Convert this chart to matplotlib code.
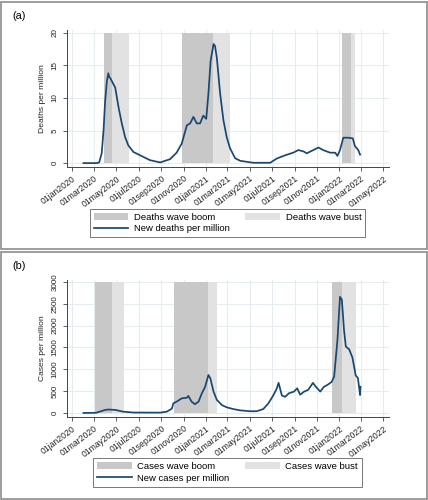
import matplotlib
matplotlib.use("Agg")
import matplotlib.pyplot as plt
from matplotlib.patches import Patch, Rectangle
from matplotlib.lines import Line2D
import numpy as np

plt.rcParams['font.family'] = ['Liberation Sans', 'DejaVu Sans']

# ---------------- data ----------------
death_dates = ["2020-02-01", "2020-03-10", "2020-03-15", "2020-03-22", "2020-03-27", "2020-03-31",
               "2020-04-05", "2020-04-09", "2020-04-12", "2020-04-15", "2020-04-28", "2020-05-07",
               "2020-05-16", "2020-05-25", "2020-06-03", "2020-06-17", "2020-07-05", "2020-08-01",
               "2020-08-29", "2020-09-25", "2020-10-13", "2020-10-27", "2020-11-10", "2020-11-19",
               "2020-11-28", "2020-12-07", "2020-12-16", "2020-12-25", "2021-01-02", "2021-01-08",
               "2021-01-14", "2021-01-22", "2021-01-26", "2021-01-31", "2021-02-09", "2021-02-18",
               "2021-02-27", "2021-03-08", "2021-03-22", "2021-04-05", "2021-05-11", "2021-06-26",
               "2021-07-14", "2021-07-23", "2021-08-06", "2021-08-28", "2021-09-11", "2021-09-25",
               "2021-10-04", "2021-10-22", "2021-11-05", "2021-11-18", "2021-12-07", "2021-12-21",
               "2021-12-27", "2022-01-03", "2022-01-12", "2022-01-26", "2022-02-07", "2022-02-13",
               "2022-02-22", "2022-02-27"]
death_values = [0, 0, 0.1, 1.5, 5.0, 9.2,
                12.5, 13.8, 13.2, 13.0, 11.6, 8.6,
                6.1, 4.0, 2.7, 1.7, 1.2, 0.45,
                0.1, 0.6, 1.6, 3.0, 5.8, 6.1,
                7.1, 6.1, 6.1, 7.3, 6.8, 10.7,
                15.7, 18.3, 18.0, 16.2, 10.7, 6.6,
                4.0, 2.3, 0.75, 0.35, 0.05, 0.05,
                0.7, 0.9, 1.2, 1.6, 2.0, 1.8,
                1.5, 2.0, 2.4, 2.0, 1.6, 1.6,
                1.1, 2.0, 3.9, 3.9, 3.8, 2.6,
                2.0, 1.3]

case_dates = ["2020-02-01", "2020-03-07", "2020-03-31", "2020-04-09", "2020-04-28", "2020-05-20",
              "2020-06-17", "2020-08-29", "2020-09-16", "2020-09-30", "2020-10-04", "2020-10-13",
              "2020-10-27", "2020-11-10", "2020-11-14", "2020-11-23", "2020-12-02", "2020-12-12",
              "2020-12-21", "2020-12-30", "2021-01-08", "2021-01-13", "2021-01-22", "2021-01-31",
              "2021-02-14", "2021-02-27", "2021-03-17", "2021-04-05", "2021-05-02", "2021-05-20",
              "2021-06-07", "2021-06-21", "2021-07-05", "2021-07-14", "2021-07-19", "2021-07-28",
              "2021-08-06", "2021-08-16", "2021-08-30", "2021-09-08", "2021-09-16", "2021-09-27",
              "2021-10-08", "2021-10-21", "2021-10-29", "2021-11-10", "2021-11-20", "2021-11-29",
              "2021-12-11", "2021-12-18", "2021-12-27", "2022-01-03", "2022-01-08", "2022-01-14",
              "2022-01-19", "2022-01-28", "2022-02-06", "2022-02-15", "2022-02-21", "2022-02-27",
              "2022-02-28"]
case_values = [0, 5, 70, 80, 70, 30,
               10, 8, 30, 100, 220, 260,
               335, 350, 390, 260, 200, 260,
               450, 600, 870, 800, 490, 300,
               180, 130, 90, 60, 40, 40,
               90, 220, 410, 560, 690, 400,
               370, 450, 490, 565, 420, 490,
               530, 690, 600, 490, 600, 640,
               710, 830, 1670, 2660, 2600, 1900,
               1520, 1460, 1270, 860, 800, 410,
               600]

death_boom = [("2020-03-28", "2020-04-18"), ("2020-10-27", "2021-01-21"), ("2022-01-08", "2022-02-02")]
death_bust = [("2020-04-18", "2020-06-04"), ("2021-01-21", "2021-03-09"), ("2022-02-02", "2022-02-12")]
case_boom = [("2020-03-04", "2020-04-19"), ("2020-10-06", "2021-01-08"), ("2021-12-11", "2022-01-09")]
case_bust = [("2020-04-19", "2020-05-23"), ("2021-01-08", "2021-01-31"), ("2022-01-09", "2022-02-17")]

xtick_dates = ["2020-01-01", "2020-03-01", "2020-05-01", "2020-07-01", "2020-09-01", "2020-11-01",
               "2021-01-01", "2021-03-01", "2021-05-01", "2021-07-01", "2021-09-01", "2021-11-01",
               "2022-01-01", "2022-03-01", "2022-05-01"]
xtick_labels = ["01jan2020", "01mar2020", "01may2020", "01jul2020", "01sep2020", "01nov2020",
                "01jan2021", "01mar2021", "01may2021", "01jul2021", "01sep2021", "01nov2021",
                "01jan2022", "01mar2022", "01may2022"]

death_yticks = [0, 5, 10, 15, 20]
case_yticks = [0, 500, 1000, 1500, 2000, 2500, 3000]

# ---------------- style ----------------
LINE_C = "#1a476f"
BOOM_C = "#c8c8c8"
BUST_C = "#e2e2e2"
GRID_C = "#e6edf0"

fig = plt.figure(figsize=(4.28, 5.00), dpi=100)

# panel frames
for y0 in (0.003, 0.503):
    fig.patches.append(Rectangle((0.003, y0), 0.994, 0.494, transform=fig.transFigure,
                                 fill=False, edgecolor="#8c8c8c", linewidth=1.2))


def to_d(s):
    return np.datetime64(s)


def draw_panel(ax, dates, values, booms, busts, ymax, ylim, yticks, ylabel,
               lab_boom, lab_bust, lab_line, leg_center, tag, tag_y):
    for a, b in booms:
        ax.fill_between([to_d(a), to_d(b)], 0, ymax, color=BOOM_C, linewidth=0, zorder=1)
    for a, b in busts:
        ax.fill_between([to_d(a), to_d(b)], 0, ymax, color=BUST_C, linewidth=0, zorder=1)
    ax.plot(np.array(dates, dtype="datetime64[D]"), values, color=LINE_C, linewidth=1.25, zorder=3)

    ax.set_xlim(to_d("2019-12-18"), to_d("2022-05-17"))
    ax.set_ylim(*ylim)
    ax.set_xticks(np.array(xtick_dates, dtype="datetime64[D]"))
    ax.set_xticklabels(xtick_labels, rotation=37, ha="right", va="top",
                       rotation_mode="anchor", fontsize=6.2, color="#222222")
    ax.set_yticks(yticks)
    ax.set_yticklabels([str(v) for v in yticks], rotation=90, va="center", fontsize=5.8,
                       color="#222222")
    ax.set_ylabel(ylabel, fontsize=6.1, labelpad=4, color="#222222")
    ax.grid(True, color=GRID_C, linewidth=0.8, zorder=0)
    ax.set_axisbelow(True)
    for s in ("top", "right"):
        ax.spines[s].set_visible(False)
    for s in ("left", "bottom"):
        ax.spines[s].set_color("#444444")
        ax.spines[s].set_linewidth(0.7)
    ax.tick_params(axis="both", length=3, width=0.6, color="#444444", pad=2)
    ax.tick_params(axis="y", pad=3)

    handles = [Patch(facecolor=BOOM_C, edgecolor="none"),
               Line2D([0], [0], color=LINE_C, linewidth=1.25),
               Patch(facecolor=BUST_C, edgecolor="none")]
    labels = [lab_boom, lab_line, lab_bust]
    leg = fig.legend(handles, labels, ncol=2, loc="center", bbox_to_anchor=leg_center,
                     fontsize=6.8, frameon=True, fancybox=False, handlelength=3.7,
                     handleheight=0.8, columnspacing=1.6, labelspacing=0.3,
                     borderpad=0.4, handletextpad=0.6, borderaxespad=0)
    leg.get_frame().set_edgecolor("#555555")
    leg.get_frame().set_linewidth(0.7)
    fig.text(0.028, tag_y, tag, fontsize=7.8, ha="left", va="center")


ax1 = fig.add_axes([0.1565, 0.666, 0.7523, 0.274])
draw_panel(ax1, death_dates, death_values, death_boom, death_bust, 20, (-0.6, 20.45),
           death_yticks, "Deaths per million", "Deaths wave boom", "Deaths wave bust",
           "New deaths per million", (0.5315, 0.554), "(a)", 0.968)

ax2 = fig.add_axes([0.1565, 0.166, 0.7523, 0.274])
draw_panel(ax2, case_dates, case_values, case_boom, case_bust, 3000, (-92, 3046),
           case_yticks, "Cases per million", "Cases wave boom", "Cases wave bust",
           "New cases per million", (0.5315, 0.055), "(b)", 0.468)

fig.savefig("out.png", dpi=100)
